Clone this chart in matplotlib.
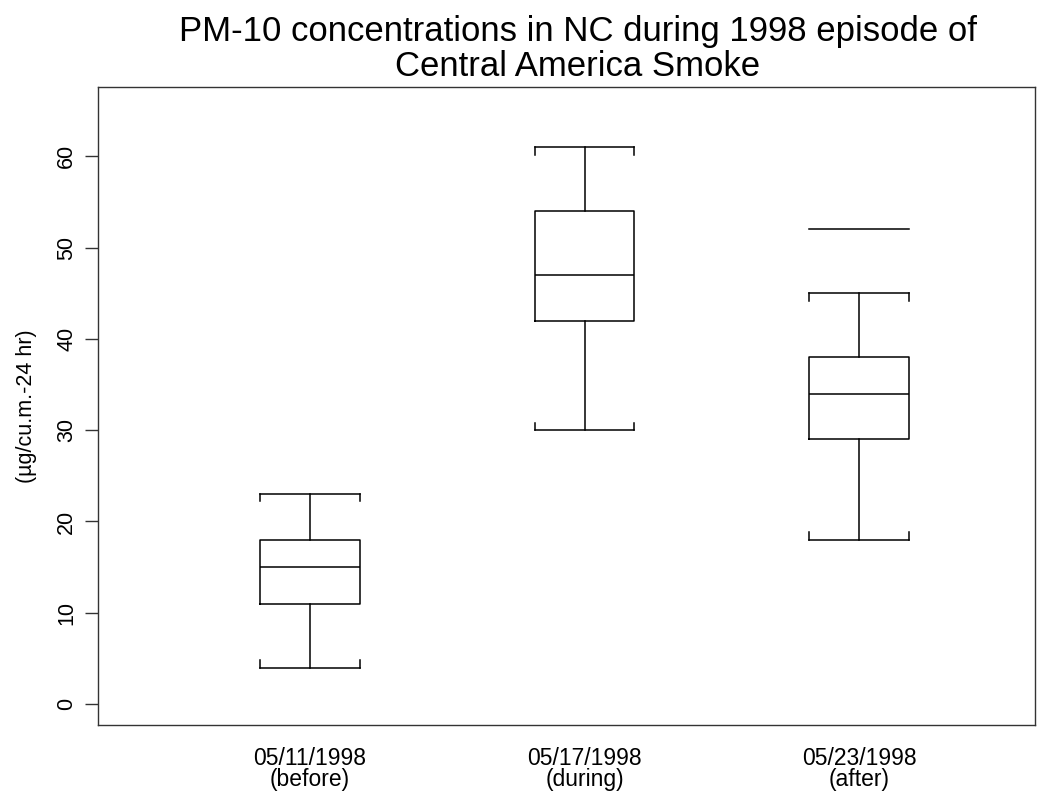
import numpy as np
import matplotlib.pyplot as plt

plt.rcParams['font.family'] = ['Liberation Sans', 'DejaVu Sans']

# box statistics
labels = ['05/11/1998\n(before)', '05/17/1998\n(during)', '05/23/1998\n(after)']
whislo = [4, 30, 18]
q1 = [11, 42, 29]
med = [15, 47, 34]
q3 = [18, 54, 38]
whishi = [23, 61, 45]
outliers = [[], [], [52]]
title_lines = ['PM-10 concentrations in NC during 1998 episode of',
               'Central America Smoke']

positions = np.arange(1, len(labels) + 1)
box_w = 0.364
hook = 0.8

fig = plt.figure(figsize=(10.63, 7.91), dpi=100)
ax = fig.add_axes([0.0922, 0.0834, 0.8815, 0.8066])

stats = []
for i in range(len(labels)):
    stats.append(dict(whislo=whislo[i], q1=q1[i], med=med[i], q3=q3[i],
                      whishi=whishi[i], fliers=[]))

lw = 1.1
ax.bxp(stats, positions=positions, widths=box_w, showfliers=False,
       capwidths=box_w,
       boxprops=dict(color='black', linewidth=lw),
       whiskerprops=dict(color='black', linewidth=lw),
       capprops=dict(color='black', linewidth=lw),
       medianprops=dict(color='black', linewidth=lw))

# little hooks at cap ends, and outliers drawn as lines
for i, p in enumerate(positions):
    for side in (-1, 1):
        x = p + side * box_w / 2
        ax.plot([x, x], [whishi[i], whishi[i] - hook], color='black', linewidth=lw)
        ax.plot([x, x], [whislo[i], whislo[i] + hook], color='black', linewidth=lw)
    for o in outliers[i]:
        ax.plot([p - box_w / 2, p + box_w / 2], [o, o], color='black', linewidth=lw)

ax.set_xlim(0.228, 3.641)
ax.set_ylim(-2.3, 67.6)
ax.set_yticks(np.arange(0, 61, 10))
ax.set_xticks(positions)
ax.set_xticklabels(labels, fontsize=16.5, linespacing=0.88)
ax.tick_params(axis='x', length=0, pad=16)
ax.tick_params(axis='y', length=9.5, width=1, pad=5.5, labelsize=15.5, color='#333333')
for t in ax.get_yticklabels():
    t.set_rotation(90)
    t.set_va('center')

for s in ax.spines.values():
    s.set_color('#333333')
    s.set_linewidth(1)

ax.set_ylabel('(µg/cu.m.-24 hr)', fontsize=15.5, labelpad=14)

# two-line title, placed by baseline
fig.text(0.5437, 0.9482, title_lines[0], fontsize=25, ha='center', va='baseline')
fig.text(0.5437, 0.9039, title_lines[1], fontsize=25, ha='center', va='baseline')

fig.savefig('out.png', dpi=100)
